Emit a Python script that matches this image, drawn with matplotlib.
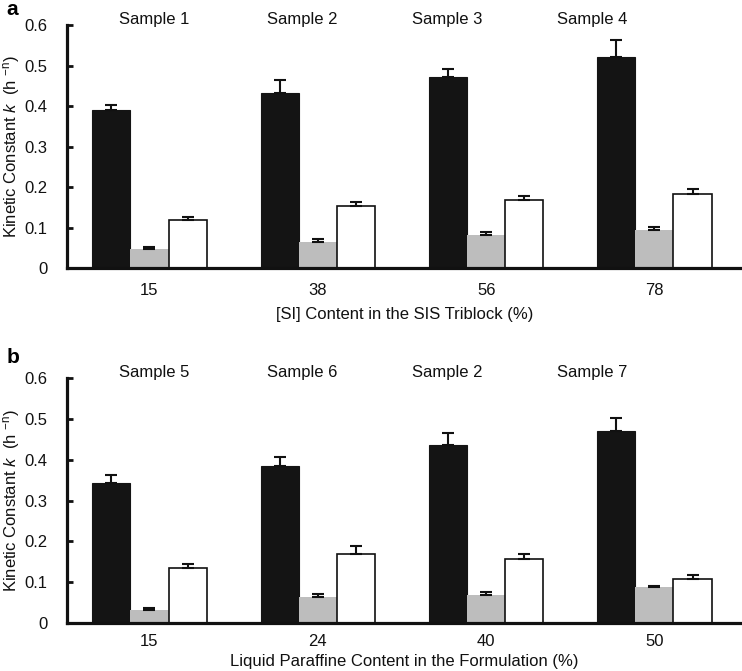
import matplotlib
matplotlib.use("Agg")
import matplotlib.pyplot as plt
import numpy as np

plt.rcParams['font.family'] = ['Liberation Sans', 'DejaVu Sans']
plt.rcParams['mathtext.fontset'] = 'custom'
plt.rcParams['mathtext.rm'] = 'Liberation Sans'
plt.rcParams['mathtext.it'] = 'Liberation Sans:italic'

# Panel a data
a_ticks = ["15", "38", "56", "78"]
a_samples = ["Sample 1", "Sample 2", "Sample 3", "Sample 4"]
a_black = [0.391, 0.433, 0.472, 0.522]
a_black_err = [0.012, 0.031, 0.020, 0.040]
a_grey = [0.047, 0.063, 0.082, 0.094]
a_grey_err = [0.005, 0.008, 0.008, 0.008]
a_white = [0.118, 0.153, 0.169, 0.184]
a_white_err = [0.008, 0.011, 0.008, 0.011]
a_xlabel = "[SI] Content in the SIS Triblock (%)"

# Panel b data
b_ticks = ["15", "24", "40", "50"]
b_samples = ["Sample 5", "Sample 6", "Sample 2", "Sample 7"]
b_black = [0.342, 0.386, 0.436, 0.471]
b_black_err = [0.020, 0.020, 0.031, 0.031]
b_grey = [0.031, 0.063, 0.067, 0.087]
b_grey_err = [0.005, 0.008, 0.008, 0.004]
b_white = [0.134, 0.169, 0.157, 0.107]
b_white_err = [0.010, 0.019, 0.012, 0.010]
b_xlabel = "Liquid Paraffine Content in the Formulation (%)"

ylabel = r"Kinetic Constant $\it{k}$  (h $^{\mathrm{-n}}$)"
sample_x = [0.03, 0.905, 1.77, 2.63]

fig = plt.figure(figsize=(7.42, 6.71), dpi=100)
ax_a = fig.add_axes([0.0903, 0.6006, 0.9097, 0.362])
ax_b = fig.add_axes([0.0903, 0.0720, 0.9097, 0.364])

w = 0.226
ekw = dict(ecolor='#111111', elinewidth=1.5, capsize=4, capthick=1.5)

def draw(ax, ticks, samples, black, berr, grey, gerr, white, werr, xlabel, xpad, xlpad):
    x = np.arange(len(ticks))
    zeros = [0] * len(ticks)
    ax.bar(x - w, black, w, color='#141414', edgecolor='#141414', linewidth=0.8,
           yerr=[zeros, berr], error_kw=ekw, zorder=2)
    ax.bar(x, grey, w, color='#bdbdbd', linewidth=0,
           yerr=[zeros, gerr], error_kw=ekw, zorder=2)
    ax.bar(x + w, white, w, color='white', edgecolor='#111111', linewidth=1.2,
           yerr=[zeros, werr], error_kw=ekw, zorder=2)
    ax.set_xlim(-0.49, 3.52)
    ax.set_ylim(0, 0.6)
    ax.set_yticks([0, 0.1, 0.2, 0.3, 0.4, 0.5, 0.6])
    ax.set_yticklabels(["0", "0.1", "0.2", "0.3", "0.4", "0.5", "0.6"])
    ax.set_xticks(x)
    ax.set_xticklabels(ticks)
    ax.tick_params(axis='x', length=0, labelsize=12, pad=xpad, colors='#111111')
    ax.tick_params(axis='y', direction='in', length=4, width=2, labelsize=12,
                   pad=14, colors='#111111')
    for s in ['top', 'right']:
        ax.spines[s].set_visible(False)
    for s in ['left', 'bottom']:
        ax.spines[s].set_linewidth(2.3)
        ax.spines[s].set_color('#111111')
    ax.set_xlabel(xlabel, fontsize=12, labelpad=xlpad, color='#111111')
    ax.set_ylabel(ylabel, fontsize=12, color='#111111')
    ax.yaxis.set_label_coords(-0.066, 0.5)
    for sx, label in zip(sample_x, samples):
        ax.text(sx, 0.615, label, ha='center', va='center', fontsize=12,
                color='#111111', clip_on=False)

draw(ax_a, a_ticks, a_samples, a_black, a_black_err, a_grey, a_grey_err,
     a_white, a_white_err, a_xlabel, 11, 6)
draw(ax_b, b_ticks, b_samples, b_black, b_black_err, b_grey, b_grey_err,
     b_white, b_white_err, b_xlabel, 8, 4)

fig.text(0.009, 0.986, "a", fontsize=15, fontweight='bold', va='center', ha='left')
fig.text(0.009, 0.467, "b", fontsize=15, fontweight='bold', va='center', ha='left')

fig.savefig("out.png", dpi=100)
